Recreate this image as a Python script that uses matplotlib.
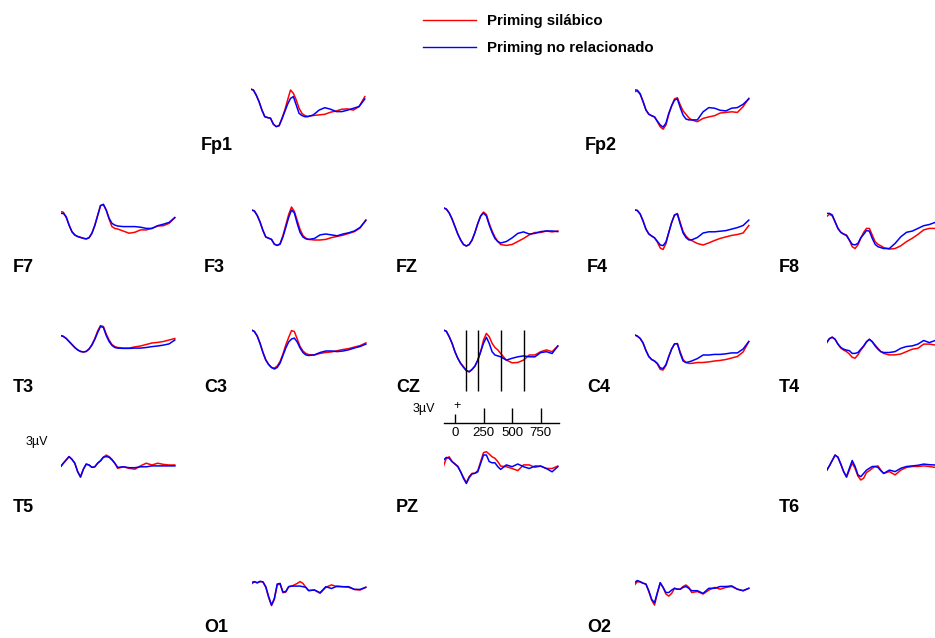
import matplotlib
matplotlib.use("Agg")
import matplotlib.pyplot as plt
from matplotlib.lines import Line2D

plt.rcParams['font.family'] = ['Liberation Sans', 'DejaVu Sans']

# time in ms
times = [-100, -75, -50, -25, 0, 25, 50, 75, 100, 125, 150, 175, 200, 225, 250,
         275, 300, 325, 350, 375, 400, 450, 500, 550, 600, 650, 700, 750, 800, 850, 900]

# amplitudes in microvolts, red = Priming silabico, blue = Priming no relacionado
fp1_sil = [6.4, 6.1, 4.4, 2.2, -0.6, -2.8, -3.1, -3.3, -5.3, -6.1, -5.8, -3.3, -0.6, 2.8, 6.1, 5.0, 2.8, 0, -1.7, -2.4, -2.7, -2.4, -2.2, -2.0, -1.3, -0.9, -0.3, -0.2, -0.6, 0.6, 3.9]
fp1_nr = [6.4, 6.1, 4.4, 2.2, -0.6, -2.8, -3.1, -3.3, -5.3, -6.1, -5.8, -3.6, -1.1, 1.4, 3.3, 3.9, 1.1, -1.7, -2.4, -2.8, -2.8, -2.2, -0.6, 0.2, -0.3, -1.1, -1.1, -0.6, 0, 0.6, 3.1]
fp2_sil = [6.1, 6.3, 5.2, 2.8, 0, -1.4, -1.9, -2.3, -3.9, -5.6, -6.4, -5.0, -1.4, 1.4, 3.7, 4.1, 1.7, -0.3, -1.4, -2.6, -3.3, -3.9, -2.8, -2.3, -1.9, -1.0, -0.8, -0.6, -0.8, 1.1, 3.9]
fp2_nr = [6.7, 6.6, 5.4, 2.8, 0, -1.4, -1.9, -2.3, -3.7, -5.0, -5.7, -4.4, -1.1, 1.4, 3.3, 3.7, 0.8, -1.7, -3.0, -3.3, -3.3, -3.3, -0.6, 0.8, 0.6, -0.1, -0.3, 0.6, 0.8, 1.9, 3.7]
f7_sil = [3.9, 3.7, 1.9, -0.6, -2.8, -3.9, -4.4, -4.7, -5.0, -5.2, -4.8, -3.3, -0.6, 2.6, 5.9, 6.3, 4.4, 1.4, -1.1, -1.7, -1.9, -2.6, -3.3, -3.0, -2.2, -2.2, -1.7, -0.9, -0.8, 0, 1.9]
f7_nr = [3.3, 3.3, 2.2, -0.6, -2.8, -3.9, -4.4, -4.7, -5.0, -5.2, -4.8, -3.3, -0.8, 2.6, 5.9, 6.3, 4.4, 1.7, 0, -0.6, -0.9, -1.1, -1.1, -1.1, -1.3, -1.7, -1.7, -0.8, -0.3, 0.3, 1.9]
f3_sil = [6.0, 5.7, 4.2, 2.0, -0.8, -3.0, -3.4, -3.8, -5.4, -5.8, -5.2, -2.5, 1.0, 4.5, 7.0, 5.5, 2.5, -0.5, -2.5, -3.4, -3.8, -4.0, -4.0, -3.8, -3.2, -2.8, -2.4, -1.8, -1.2, 0, 2.7]
f3_nr = [6.0, 5.7, 4.2, 2.0, -0.8, -3.0, -3.4, -3.8, -5.4, -5.8, -5.4, -3.0, 0.2, 3.5, 6.0, 5.0, 1.5, -1.5, -3.0, -3.6, -3.8, -3.5, -2.3, -2.0, -2.3, -2.6, -2.0, -1.6, -1.0, 0.2, 2.5]
fz_sil = [6.7, 6.3, 5.0, 3.0, 0.5, -2.0, -4.0, -5.5, -6.0, -5.5, -4.0, -1.5, 1.5, 4.0, 5.3, 4.5, 1.5, -1.0, -3.0, -4.5, -5.5, -5.8, -5.5, -4.5, -3.5, -2.3, -1.5, -1.5, -1.0, -1.3, -1.0]
fz_nr = [6.7, 6.3, 5.0, 3.0, 0.5, -2.0, -4.0, -5.5, -6.0, -5.5, -4.0, -1.5, 1.5, 4.0, 5.0, 4.0, 1.0, -1.5, -3.5, -4.5, -5.0, -4.5, -3.3, -1.8, -1.3, -2.0, -1.8, -1.2, -1.0, -1.0, -1.2]
f4_sil = [6.7, 6.5, 5.3, 3.0, 0.3, -1.3, -2.0, -2.6, -4.0, -6.0, -6.5, -4.5, -0.8, 2.5, 5.0, 5.5, 2.5, -0.5, -2.0, -3.0, -3.5, -4.5, -5.0, -4.3, -3.5, -2.8, -2.3, -1.8, -1.5, -1.0, 1.5]
f4_nr = [6.7, 6.5, 5.3, 3.0, 0.3, -1.3, -2.0, -2.6, -3.8, -5.0, -5.2, -4.0, -0.8, 2.5, 5.0, 5.3, 2.0, -1.0, -2.5, -3.3, -3.3, -2.5, -1.0, -0.6, -0.6, -0.4, -0.2, 0.3, 0.8, 1.5, 3.3]
f8_sil = [5.0, 5.8, 5.3, 3.3, 1.1, -0.2, -0.8, -1.1, -2.8, -5.0, -5.6, -4.4, -2.2, -0.2, 1.1, 1.1, -1.1, -3.3, -4.2, -4.7, -5.3, -5.8, -5.6, -4.7, -3.3, -2.2, -0.9, 0.6, 1.1, 1.1, 1.1]
f8_nr = [6.1, 6.1, 5.6, 3.3, 1.1, -0.2, -0.8, -1.3, -2.8, -4.2, -4.4, -3.9, -2.0, -0.9, 0.4, 0.2, -2.2, -4.2, -5.0, -5.3, -5.6, -5.6, -3.9, -1.7, -0.2, 0.2, 1.1, 2.0, 2.4, 3.1, 3.6]
t3_sil = [1.5, 1.2, 0.5, -0.5, -1.5, -2.5, -3.3, -3.8, -4.0, -3.8, -3.0, -1.5, 0.5, 3.0, 4.8, 4.5, 2.0, 0, -1.5, -2.2, -2.5, -2.7, -2.7, -2.3, -2.0, -1.5, -1.0, -0.8, -0.5, 0, 0.5]
t3_nr = [1.5, 1.2, 0.5, -0.5, -1.5, -2.5, -3.3, -3.8, -4.0, -3.8, -3.0, -1.7, 0.2, 2.5, 4.5, 4.2, 1.5, -0.5, -1.8, -2.5, -2.7, -2.8, -2.8, -2.7, -2.7, -2.5, -2.2, -2.0, -1.7, -1.3, 0]
c3_sil = [6.0, 5.5, 4.0, 1.5, -1.5, -4.0, -5.5, -6.5, -6.7, -6.0, -4.5, -2.0, 1.0, 3.5, 5.8, 5.5, 3.0, 0.5, -1.0, -1.8, -2.2, -2.3, -1.8, -1.5, -1.3, -0.9, -0.5, -0.2, 0.3, 0.8, 1.7]
c3_nr = [6.0, 5.5, 4.0, 1.5, -1.5, -4.0, -5.5, -6.5, -7.0, -6.5, -5.0, -2.5, 0, 2.0, 3.0, 3.3, 2.0, 0, -1.5, -2.3, -2.5, -2.3, -1.5, -1.0, -1.0, -1.2, -1.0, -0.6, 0, 0.5, 1.3]
cz_sil = [7.2, 6.8, 5.0, 2.8, 0, -2.2, -3.9, -5.0, -6.3, -6.7, -5.9, -4.8, -2.8, 0, 3.9, 6.1, 5.0, 2.8, 1.4, 0.6, -0.6, -2.8, -3.7, -3.6, -2.8, -1.1, -1.1, 0, 0.6, 0, 1.9]
cz_nr = [7.2, 6.8, 5.0, 2.8, 0, -2.2, -3.9, -5.2, -6.3, -6.7, -5.9, -4.8, -2.8, 0, 2.8, 4.8, 2.8, 0, -1.1, -1.4, -1.7, -2.8, -2.2, -1.7, -1.4, -1.7, -1.7, -0.3, 0, -0.6, 1.9]
c4_sil = [5.7, 5.3, 4.5, 3.0, 0.5, -1.5, -2.5, -3.0, -4.0, -5.8, -6.0, -4.5, -1.5, 1.0, 2.7, 2.8, 0, -2.5, -3.5, -3.8, -3.8, -3.5, -3.5, -3.3, -3.0, -2.8, -2.5, -2.0, -1.5, 0, 3.5]
c4_nr = [5.7, 5.3, 4.5, 3.0, 0.5, -1.5, -2.5, -3.0, -3.8, -5.3, -5.5, -4.2, -1.5, 1.0, 2.7, 2.8, -0.5, -3.0, -3.5, -3.3, -3.0, -2.2, -1.0, -1.0, -0.8, -0.8, -0.6, -0.3, -0.3, 1.0, 3.5]
t4_sil = [1.7, 3.2, 3.7, 3.0, 1.4, 0.1, -0.6, -1.1, -1.9, -3.0, -3.3, -2.2, -0.6, 0.6, 2.1, 3.0, 2.2, 1.1, 0, -1.1, -1.7, -2.2, -2.2, -1.9, -1.1, -0.3, 0, 1.4, 1.4, 1.1, 1.1]
t4_nr = [1.9, 3.2, 3.7, 3.0, 1.4, 0.3, -0.3, -0.6, -0.8, -1.7, -1.7, -1.4, -0.3, 0.8, 2.2, 3.0, 2.2, 0.8, -0.3, -1.1, -1.4, -1.4, -1.1, 0, 0.6, 0.8, 1.4, 2.6, 1.9, 2.6, 3.0]
t5_sil = [-0.6, 0.6, 1.7, 2.8, 1.9, 0.6, -2.2, -4.1, -1.4, 0.3, 0, -0.8, -0.6, 0.6, 1.4, 2.6, 3.3, 2.8, 1.9, 0.6, -1.1, -0.6, -1.1, -1.4, -0.3, 0.6, 0, 0.6, 0.2, 0, 0]
t5_nr = [-0.6, 0.6, 1.7, 2.8, 1.9, 0.6, -2.2, -3.9, -1.4, 0.3, 0, -0.8, -0.6, 0.6, 1.4, 2.6, 2.8, 2.6, 1.7, 0.6, -0.8, -0.6, -0.9, -0.9, -0.6, -0.6, -0.3, -0.3, -0.3, -0.3, -0.3]
pz_sil = [0.2, 2.8, 3.3, 1.7, 0.9, 0.2, -1.7, -3.6, -5.3, -3.3, -2.2, -2.2, -1.3, 1.7, 4.7, 5.0, 4.2, 3.3, 2.8, 1.7, 0.2, 0, -0.6, -1.3, 0.6, 0.6, -0.2, 0.2, -0.6, -0.6, 0.2]
pz_nr = [2.2, 3.1, 2.8, 1.7, 0.9, 0, -1.7, -3.9, -5.6, -3.6, -2.4, -2.2, -1.7, 1.1, 3.9, 3.9, 1.7, 1.3, 1.3, 0, -0.9, 0.6, 0, 0.9, 0, -0.6, 0.2, 0.2, -0.6, -1.7, 0]
t6_sil = [-0.8, 0.8, 2.6, 4.4, 3.7, 1.4, -1.1, -3.0, -0.6, 1.7, 0, -2.6, -3.9, -3.3, -1.4, -0.8, 0, 0.6, 0.8, -0.6, -1.7, -1.1, -2.2, -0.6, 0.3, 0.6, 0.6, 0.8, 0.6, 0.3, 0.3]
t6_nr = [-0.8, 0.8, 2.6, 4.4, 3.7, 1.4, -1.1, -2.8, 0, 2.6, 0.6, -2.2, -2.8, -1.7, -0.6, 0, 0.6, 0.6, 0.3, -0.8, -1.7, -0.6, -1.1, 0, 0.6, 0.8, 1.0, 1.4, 1.2, 1.1, 1.1]
o1_sil = [0.9, 1.6, 1.3, 1.7, 1.6, -0.2, -3.6, -6.3, -4.2, 0.6, 0.9, -2.0, -1.8, 0, 0.2, 0.6, 1.1, 1.7, 1.1, -0.2, -1.3, -1.1, -2.2, -0.2, 0.6, 0, 0, -0.2, -0.9, -1.1, -0.2]
o1_nr = [1.4, 1.7, 1.3, 1.8, 1.6, 0, -3.3, -6.1, -3.9, 0.9, 1.1, -1.8, -1.6, 0, 0.2, 0.2, 0.2, 0.2, 0, -0.2, -1.3, -1.1, -2.0, 0, -0.6, 0.2, 0, 0, -0.9, -0.9, -0.2]
o2_sil = [1.1, 2.2, 2.1, 1.7, 1.4, -1.1, -3.9, -5.6, -1.7, 1.7, 0.3, -1.9, -2.6, -1.7, 0, -0.3, -0.3, 0.6, 1.1, 0.3, -1.4, -1.1, -1.9, -0.6, 0.3, -0.3, 0.3, 0.6, -0.3, -0.8, 0]
o2_nr = [1.9, 2.6, 2.2, 1.7, 1.4, -0.8, -3.7, -4.8, -1.4, 1.9, 0.3, -1.4, -1.4, -0.6, 0, -0.3, -0.3, 0.3, 0.6, 0, -0.8, -0.8, -1.7, 0, 0, 0.6, 0.6, 0.8, -0.3, -0.8, 0]

# layout: name -> (label x px, label y px, trace centre y px, red, blue)
layout = {
    'Fp1': (201, 145, 108.3, fp1_sil, fp1_nr),
    'Fp2': (585, 145, 110.0, fp2_sil, fp2_nr),
    'F7': (13, 268, 223.3, f7_sil, f7_nr),
    'F3': (204, 268, 228.0, f3_sil, f3_nr),
    'FZ': (396, 268, 228.0, fz_sil, fz_nr),
    'F4': (587, 268, 230.0, f4_sil, f4_nr),
    'F8': (779, 268, 231.7, f8_sil, f8_nr),
    'T3': (13, 388, 340.0, t3_sil, t3_nr),
    'C3': (204, 388, 348.0, c3_sil, c3_nr),
    'CZ': (396, 388, 351.7, cz_sil, cz_nr),
    'C4': (587, 388, 352.0, c4_sil, c4_nr),
    'T4': (779, 388, 348.3, t4_sil, t4_nr),
    'T5': (13, 508, 465.0, t5_sil, t5_nr),
    'PZ': (396, 508, 466.7, pz_sil, pz_nr),
    'T6': (779, 508, 468.3, t6_sil, t6_nr),
    'O1': (204, 628, 586.7, o1_sil, o1_nr),
    'O2': (587, 628, 588.3, o2_sil, o2_nr),
}

W, H = 935, 638
fig = plt.figure(figsize=(W / 100, H / 100), dpi=100)

ax_w = 116.6   # px for -100..920 ms
ax_h = 90.0    # px for -15..15 uV
col_off = 47.5

for name, (lx, ly, cy, red, blue) in layout.items():
    x0 = lx + col_off
    if name in ('Fp1', 'Fp2'):
        x0 = lx + 49.5
    ax = fig.add_axes([x0 / W, (H - cy - ax_h / 2) / H, ax_w / W, ax_h / H])
    ax.plot(times, red, color='#ff0000', lw=1.1)
    ax.plot(times, blue, color='#0000ff', lw=1.1)
    ax.set_xlim(-100, 920)
    ax.set_ylim(-15, 15)
    ax.axis('off')
    fig.text(lx / W, 1 - ly / H, name, fontsize=13, fontweight='bold',
             ha='left', va='center')
    if name == 'CZ':
        ax.vlines([100, 200, 400, 600], -13.1, 7.2, color='black', lw=1.0)
        # time scale under CZ
        sc = fig.add_axes([x0 / W, (H - 423.3) / H, 115.0 / W, 20 / H])
        sc.set_xlim(-100, 905)
        sc.set_ylim(0, 1)
        sc.patch.set_visible(False)
        for s in ('top', 'left', 'right'):
            sc.spines[s].set_visible(False)
        sc.spines['bottom'].set_linewidth(1.0)
        sc.set_yticks([])
        sc.set_xticks([0, 250, 500, 750])
        sc.tick_params(axis='x', direction='in', length=10.8, width=1.0,
                       pad=2.5, labelsize=9.5)
        sc.xaxis.get_major_ticks()[0].tick1line.set_markersize(6.5)
        fig.text(413 / W, 1 - 409 / H, '3µV', fontsize=9, ha='left', va='center')
        fig.text(456.7 / W, 1 - 405.5 / H, '+', fontsize=9, ha='center', va='center')

fig.text(26 / W, 1 - 441.5 / H, '3µV', fontsize=9, ha='left', va='center')

handles = [Line2D([], [], color='#ff0000', lw=1.0),
           Line2D([], [], color='#0000ff', lw=1.0)]
fig.legend(handles, ['Priming silábico', 'Priming no relacionado'],
           loc='upper left', bbox_to_anchor=(423 / W, 1 - 14.5 / H),
           frameon=False, prop={'weight': 'bold', 'size': 10.8},
           handlelength=3.5, handletextpad=0.75, labelspacing=0.85,
           borderpad=0, borderaxespad=0)

fig.savefig('out.png', dpi=100)
